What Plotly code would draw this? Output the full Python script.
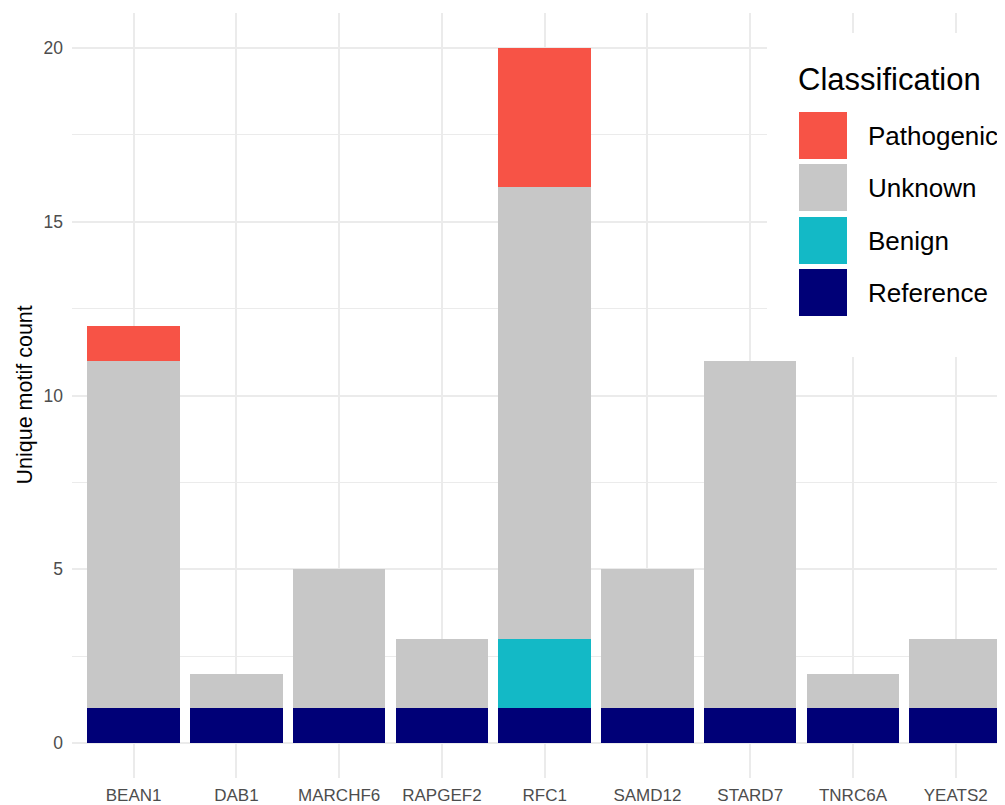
import plotly.graph_objects as go

genes = ["BEAN1", "DAB1", "MARCHF6", "RAPGEF2", "RFC1", "SAMD12", "STARD7", "TNRC6A", "YEATS2"]
reference = [1, 1, 1, 1, 1, 1, 1, 1, 1]
benign = [0, 0, 0, 0, 2, 0, 0, 0, 0]
unknown = [10, 1, 4, 2, 13, 4, 10, 1, 2]
pathogenic = [1, 0, 0, 0, 4, 0, 0, 0, 0]

classes = ["Pathogenic", "Unknown", "Benign", "Reference"]
colors = {"Pathogenic": "#F75346", "Unknown": "#C7C7C7", "Benign": "#13B9C6", "Reference": "#000077"}
series = {"Reference": reference, "Benign": benign, "Unknown": unknown, "Pathogenic": pathogenic}

OFF = 8  # page body margin
W, H = 1005 - OFF, 805 - OFF
L, R, T, B = 72, 1005, 13, 778  # page pixel coords of plot area

def px(x):
    return (x - L) / (R - L)

def py(y):
    return (B - y) / (B - T)

fig = go.Figure()
for name in ["Reference", "Benign", "Unknown", "Pathogenic"]:
    fig.add_trace(go.Bar(x=genes, y=series[name], name=name, marker=dict(color=colors[name], line=dict(width=0)),
                         width=0.9, showlegend=False))

grid = "#EBEBEB"
fig.update_layout(
    width=W, height=H, barmode="stack",
    margin=dict(l=L - OFF, r=0, t=T - OFF, b=805 - B, pad=0),
    plot_bgcolor="white", paper_bgcolor="white",
    font=dict(family="Liberation Sans, Arial, sans-serif"),
    xaxis=dict(range=[-0.6, (1005 - 133.3) / 102.8], showgrid=True, gridcolor=grid, gridwidth=1.5,
               zeroline=False, showline=False, ticks="", tickfont=dict(size=17, color="#4D4D4D"),
               ticklabelstandoff=5),
    yaxis=dict(range=[-1, 21], tickvals=[0, 5, 10, 15, 20], showgrid=True, gridcolor=grid, gridwidth=1.5,
               zeroline=False, showline=False, ticks="", tickfont=dict(size=17.5, color="#4D4D4D"),
               ticklabelstandoff=8,
               minor=dict(tickvals=[2.5, 7.5, 12.5, 17.5], showgrid=True, gridcolor=grid, gridwidth=1.3)),
)

fig.add_annotation(text="Unique motif count", xref="paper", yref="paper", x=px(24), y=0.5,
                   textangle=-90, showarrow=False, font=dict(size=21.5, color="black"),
                   xanchor="center", yanchor="middle")

# legend box
fig.add_shape(type="rect", xref="paper", yref="paper", x0=px(767), x1=px(1010), y0=py(357), y1=py(33),
              fillcolor="white", line=dict(width=0), layer="above")
fig.add_annotation(text="Classification", xref="paper", yref="paper", x=px(796), y=py(79),
                   xanchor="left", yanchor="middle", showarrow=False, font=dict(size=31, color="black"))
tops = [112, 164, 217, 269]
for cls, t in zip(classes, tops):
    fig.add_shape(type="rect", xref="paper", yref="paper", x0=px(799), x1=px(847), y0=py(t + 47), y1=py(t),
                  fillcolor=colors[cls], line=dict(width=0), layer="above")
    fig.add_annotation(text=cls, xref="paper", yref="paper", x=px(866), y=py(t + 24),
                       xanchor="left", yanchor="middle", showarrow=False, font=dict(size=26, color="black"))

fig.write_html("out.html")
